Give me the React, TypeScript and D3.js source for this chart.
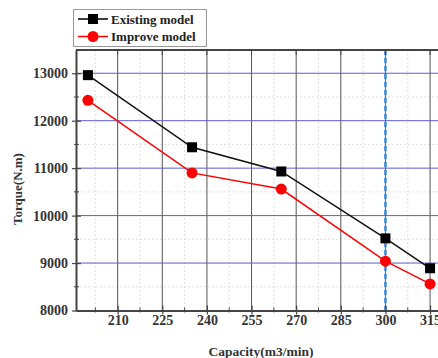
import { useEffect, useRef } from "react";
import * as d3 from "d3";

const capacity = [200, 235, 265, 300, 315];
const existingModel = [12960, 11440, 10930, 9520, 8890];
const improveModel = [12430, 10900, 10560, 9040, 8560];
const xTicks = [210, 225, 240, 255, 270, 285, 300, 315];
const yTicks = [8000, 9000, 10000, 11000, 12000, 13000];
const markLine = 300;

export default function App() {
  const svgRef = useRef<SVGSVGElement>(null);

  useEffect(() => {
    if (!svgRef.current) return;
    const svg = d3.select(svgRef.current);
    svg.selectAll("*").remove();

    const left = 76;
    const right = 439;
    const top = 50;
    const bottom = 310.5;
    const font = "'Liberation Serif', 'Times New Roman', serif";

    const x = d3.scaleLinear().domain([196, 318]).range([left, right]);
    const y = d3.scaleLinear().domain([8000, 13490]).range([bottom, top]);

    const minorX = d3.range(202.5, 318, 15);
    const minorY = d3.range(8500, 13500, 1000);

    // minor grid, faint
    svg.append("g")
      .selectAll("line")
      .data(minorX)
      .join("line")
      .attr("x1", (d) => x(d))
      .attr("x2", (d) => x(d))
      .attr("y1", top)
      .attr("y2", bottom)
      .attr("stroke", "#d8d8d8")
      .attr("stroke-width", 0.8)
      .attr("stroke-dasharray", "2,2");
    svg.append("g")
      .selectAll("line")
      .data(minorY)
      .join("line")
      .attr("x1", left)
      .attr("x2", right)
      .attr("y1", (d) => y(d))
      .attr("y2", (d) => y(d))
      .attr("stroke", "#d8d8d8")
      .attr("stroke-width", 0.8)
      .attr("stroke-dasharray", "2,2");

    // major grid
    svg.append("g")
      .selectAll("line")
      .data(xTicks)
      .join("line")
      .attr("x1", (d) => x(d))
      .attr("x2", (d) => x(d))
      .attr("y1", top)
      .attr("y2", bottom)
      .attr("stroke", "#555")
      .attr("stroke-width", 1);
    svg.append("g")
      .selectAll("line")
      .data(yTicks.slice(1))
      .join("line")
      .attr("x1", left)
      .attr("x2", right)
      .attr("y1", (d) => y(d))
      .attr("y2", (d) => y(d))
      .attr("stroke", "#5c5ccc")
      .attr("stroke-width", 1);

    // dashed marker line
    svg.append("line")
      .attr("x1", x(markLine))
      .attr("x2", x(markLine))
      .attr("y1", top)
      .attr("y2", bottom)
      .attr("stroke", "#3d86d6")
      .attr("stroke-width", 2.5)
      .attr("stroke-dasharray", "5,3");

    // axes
    const axisColor = "#444";
    svg.append("g")
      .attr("transform", `translate(0,${bottom})`)
      .call(d3.axisBottom(x).tickValues(xTicks).tickSizeInner(-5).tickSizeOuter(0).tickPadding(5).tickFormat(d3.format("d")))
      .call((g) => g.select(".domain").attr("stroke", axisColor).attr("stroke-width", 2))
      .call((g) => g.selectAll(".tick line").attr("stroke", axisColor).attr("stroke-width", 1.2).attr("y2", -5).attr("y1", 4))
      .call((g) =>
        g.selectAll("text").attr("fill", "#333").style("font-family", font).style("font-weight", "bold").style("font-size", "14px")
      );
    svg.append("g")
      .attr("transform", `translate(0,${bottom})`)
      .selectAll("line")
      .data(minorX)
      .join("line")
      .attr("x1", (d) => x(d))
      .attr("x2", (d) => x(d))
      .attr("y1", -3)
      .attr("y2", 2)
      .attr("stroke", axisColor);

    svg.append("g")
      .attr("transform", `translate(${left},0)`)
      .call(d3.axisLeft(y).tickValues(yTicks).tickSizeInner(4).tickSizeOuter(0).tickPadding(4).tickFormat(d3.format("d")))
      .call((g) => g.select(".domain").attr("stroke", axisColor).attr("stroke-width", 2))
      .call((g) => g.selectAll(".tick line").attr("stroke", axisColor).attr("stroke-width", 1.2).attr("x2", 5).attr("x1", -4))
      .call((g) =>
        g.selectAll("text").attr("fill", "#333").style("font-family", font).style("font-weight", "bold").style("font-size", "14px")
      );
    svg.append("g")
      .attr("transform", `translate(${left},0)`)
      .selectAll("line")
      .data(minorY)
      .join("line")
      .attr("x1", -2)
      .attr("x2", 3)
      .attr("y1", (d) => y(d))
      .attr("y2", (d) => y(d))
      .attr("stroke", axisColor);

    // top axis
    svg.append("line")
      .attr("x1", left)
      .attr("x2", right)
      .attr("y1", top)
      .attr("y2", top)
      .attr("stroke", axisColor)
      .attr("stroke-width", 2);
    svg.append("g")
      .selectAll("line")
      .data(xTicks)
      .join("line")
      .attr("x1", (d) => x(d))
      .attr("x2", (d) => x(d))
      .attr("y1", top)
      .attr("y2", top + 5)
      .attr("stroke", axisColor);

    // series
    const pts = (vals: number[]) => capacity.map((c, i) => [c, vals[i]] as [number, number]);
    const line = d3
      .line<[number, number]>()
      .x((d) => x(d[0]))
      .y((d) => y(d[1]));

    svg.append("path")
      .datum(pts(existingModel))
      .attr("fill", "none")
      .attr("stroke", "#111")
      .attr("stroke-width", 1.5)
      .attr("d", line);
    svg.append("path")
      .datum(pts(improveModel))
      .attr("fill", "none")
      .attr("stroke", "#f00")
      .attr("stroke-width", 1.5)
      .attr("d", line);

    svg.append("g")
      .selectAll("rect")
      .data(pts(existingModel))
      .join("rect")
      .attr("x", (d) => x(d[0]) - 5)
      .attr("y", (d) => y(d[1]) - 5)
      .attr("width", 10)
      .attr("height", 10)
      .attr("fill", "#000");
    svg.append("g")
      .selectAll("circle")
      .data(pts(improveModel))
      .join("circle")
      .attr("cx", (d) => x(d[0]))
      .attr("cy", (d) => y(d[1]))
      .attr("r", 5.5)
      .attr("fill", "#f00");

    // legend
    const lg = svg.append("g");
    lg.append("rect")
      .attr("x", 73.5)
      .attr("y", 9.5)
      .attr("width", 133)
      .attr("height", 37)
      .attr("fill", "#fff")
      .attr("stroke", "#999")
      .attr("stroke-width", 1);
    const items = [
      { label: "Existing model", color: "#000", shape: "square" },
      { label: "Improve model", color: "#f00", shape: "circle" },
    ];
    items.forEach((it, i) => {
      const cy = 19 + i * 17.5;
      lg.append("line")
        .attr("x1", 78)
        .attr("x2", 108)
        .attr("y1", cy)
        .attr("y2", cy)
        .attr("stroke", it.color)
        .attr("stroke-width", 1.5);
      if (it.shape === "square") {
        lg.append("rect").attr("x", 88).attr("y", cy - 5).attr("width", 10).attr("height", 10).attr("fill", it.color);
      } else {
        lg.append("circle").attr("cx", 93).attr("cy", cy).attr("r", 5.5).attr("fill", it.color);
      }
      lg.append("text")
        .attr("x", 111)
        .attr("y", cy + 4.5)
        .attr("fill", "#222")
        .style("font-family", font)
        .style("font-weight", "bold")
        .style("font-size", "13px")
        .text(it.label);
    });

    // axis titles
    svg.append("text")
      .attr("transform", `translate(22,${189}) rotate(-90)`)
      .attr("text-anchor", "middle")
      .attr("fill", "#333")
      .style("font-family", font)
      .style("font-weight", "bold")
      .style("font-size", "13px")
      .text("Torque(N.m)");
    svg.append("text")
      .attr("x", 261)
      .attr("y", 356)
      .attr("text-anchor", "middle")
      .attr("fill", "#333")
      .style("font-family", font)
      .style("font-weight", "bold")
      .style("font-size", "13.5px")
      .text("Capacity(m3/min)");
  }, []);

  return (
    <svg
      ref={svgRef}
      width={438}
      height={358}
      style={{ position: "absolute", left: 0, top: 0, background: "#fff" }}
    />
  );
}
